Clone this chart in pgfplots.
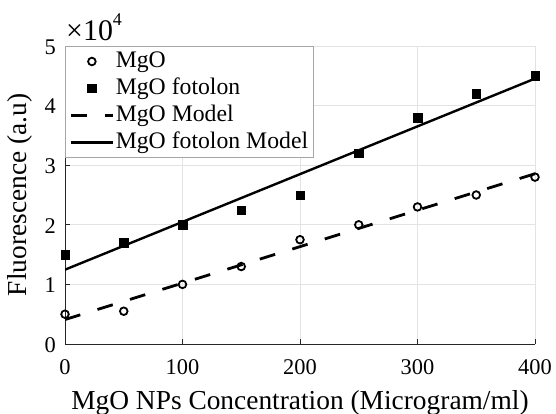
\documentclass[border=0pt]{standalone}
\usepackage{pgfplots}
\pgfplotsset{compat=1.18}
\usepackage{fontspec}
\setmainfont{Liberation Serif}

\begin{document}
\begin{tikzpicture}
\useasboundingbox (0,0) rectangle (556bp,414bp);
\begin{axis}[
  name=main,
  at={(65bp,70bp)}, anchor=south west,
  scale only axis, width=470bp, height=298bp,
  xmin=0, xmax=400, ymin=0, ymax=50000,
  xtick={0,100,...,400}, ytick={0,10000,...,50000},
  scaled y ticks=false,
  yticklabels={0,1,2,3,4,5},
  axis x line*=bottom, axis y line*=left,
  axis line style={black!85, line width=1bp},
  tick align=inside, major tick length=5bp,
  tick style={black!85, line width=0.9bp},
  grid=major, grid style={gray!22, line width=0.9bp},
  /pgf/number format/assume math mode=true,
  ticklabel style={font=\fontsize{22.5}{24}\selectfont, inner sep=0pt},
  xticklabel style={anchor=north, yshift=-15bp},
  yticklabel style={anchor=east, xshift=-9bp, yshift=-1bp},
  xlabel={MgO NPs Concentration (Microgram/ml)},
  ylabel={Fluorescence (a.u)},
  every axis x label/.style={at={(axis description cs:0.5,0)}, anchor=base,
    yshift=-65bp, font=\fontsize{27.5}{29}\selectfont},
  every axis y label/.style={at={(axis description cs:-0.096,0.5)}, anchor=center,
    rotate=90, font=\fontsize{27.5}{29}\selectfont},
  legend image code/.code={\draw[mark repeat=2, mark phase=2, #1]
    plot coordinates {(0bp,0bp) (21bp,0bp) (42bp,0bp)};},
  legend style={at={(rel axis cs:0,1)}, anchor=north west, draw=gray!70,
    line width=1bp, fill=white, font=\fontsize{23.8}{25}\selectfont,
    inner xsep=4bp, inner ysep=3bp, row sep=3bp,
    nodes={text height=16bp, text depth=5bp, inner sep=1.5bp}},
  legend cell align=left,
]
% measured intensities
\addplot[only marks, mark=o, mark size=3.8bp, line width=1.8bp, black]
  coordinates {(0,5000) (50,5500) (100,10000) (150,13000) (200,17500)
               (250,20000) (300,23000) (350,25000) (400,28000)};
\addlegendentry{MgO}
\addplot[only marks, mark=square*, mark size=4.2bp, black]
  coordinates {(0,15000) (50,17000) (100,20000) (150,22500) (200,25000)
               (250,32000) (300,38000) (350,42000) (400,45000)};
\addlegendentry{MgO fotolon}
% least-squares fits
\addplot[black, line width=2.8bp, dash pattern=on 16bp off 18bp]
  coordinates {(0,4100) (400,28570)};
\addlegendentry{MgO Model}
\addplot[black, line width=2.4bp]
  coordinates {(0,12470) (400,44530)};
\addlegendentry{MgO fotolon Model}
\end{axis}
% power-of-ten multiplier for the y ticks
\node[anchor=base west, inner sep=0pt, font=\fontsize{30}{32}\selectfont]
  at ([xshift=1bp, yshift=6bp]main.north west)
  {×10\raisebox{0.5em}{\fontsize{18}{20}\selectfont 4}};
\end{tikzpicture}
\end{document}
